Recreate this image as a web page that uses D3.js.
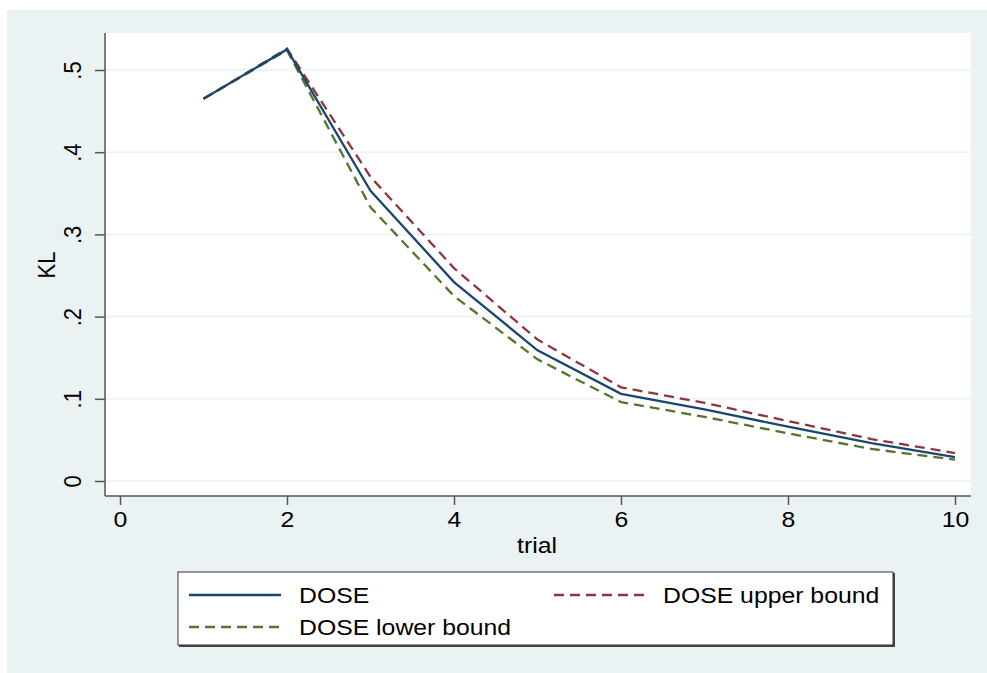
<!DOCTYPE html>
<html>
<head>
<meta charset="utf-8">
<script src="https://cdn.jsdelivr.net/npm/d3@7"></script>
<style>
  html, body { margin: 0; padding: 0; background: #ffffff; }
  svg { display: block; font-family: "Liberation Sans", Arial, Helvetica, sans-serif; }
</style>
</head>
<body>
<svg id="chart" width="987" height="673"></svg>
<script>
// KL divergence by trial for DOSE and its bounds
const trials = [1, 2, 3, 4, 5, 6, 7, 8, 9, 10];
const dose = [0.465, 0.525, 0.353, 0.242, 0.159, 0.106, 0.087, 0.066, 0.046, 0.029];
const doseUpper = [0.465, 0.526, 0.370, 0.259, 0.172, 0.114, 0.095, 0.073, 0.051, 0.034];
const doseLower = [0.465, 0.524, 0.333, 0.225, 0.148, 0.096, 0.078, 0.058, 0.039, 0.026];
const xTicks = [0, 2, 4, 6, 8, 10];
const yTicks = [0, 0.1, 0.2, 0.3, 0.4, 0.5];
const yTickLabels = ["0", ".1", ".2", ".3", ".4", ".5"];

const series = [
  { name: "DOSE", values: dose, color: "#1a476f", dash: null },
  { name: "DOSE upper bound", values: doseUpper, color: "#90353b", dash: "10,6" },
  { name: "DOSE lower bound", values: doseLower, color: "#55752f", dash: "10,6" }
];

const svg = d3.select("#chart");
const bg = "#eaf2f3";
const fontSize = 22;
const stretch = 1.127;   // horizontal widening of all text

// outer graph region
svg.append("rect").attr("x", 7).attr("y", 10).attr("width", 980).attr("height", 663).attr("fill", bg);

// plot region
const plot = { left: 105, right: 971, top: 33, bottom: 496 };
svg.append("rect")
  .attr("x", plot.left).attr("y", plot.top)
  .attr("width", plot.right - plot.left).attr("height", plot.bottom - plot.top)
  .attr("fill", "#ffffff");

const x = d3.scaleLinear().domain([0, 10]).range([120, 955]);
const y = d3.scaleLinear().domain([0, 0.5]).range([481, 70]);

// horizontal grid lines
svg.append("g").selectAll("line").data(yTicks).join("line")
  .attr("x1", plot.left).attr("x2", plot.right)
  .attr("y1", d => y(d)).attr("y2", d => y(d))
  .attr("stroke", bg).attr("stroke-width", 1.5);

// y axis
const yAxis = d3.axisLeft(y).tickValues(yTicks).tickSize(10)
  .tickFormat((d, i) => yTickLabels[i]);
const gy = svg.append("g").attr("transform", `translate(${plot.left},0)`).call(yAxis);
gy.select(".domain").attr("d", `M0,${plot.top}V${plot.bottom}`).attr("stroke", "#555").attr("stroke-width", 1.5);
gy.selectAll(".tick line").attr("stroke", "#555").attr("stroke-width", 1.5);
gy.selectAll(".tick text")
  .attr("x", null).attr("dy", null)
  .attr("transform", `translate(-24,0) scale(${stretch},1) rotate(-90)`)
  .attr("text-anchor", "middle")
  .attr("font-size", fontSize).attr("fill", "#000")
  .style("font-family", "'Liberation Sans', Arial, sans-serif");

// x axis
const xAxis = d3.axisBottom(x).tickValues(xTicks).tickSize(9).tickFormat(d3.format("d"));
const gx = svg.append("g").attr("transform", `translate(0,${plot.bottom})`).call(xAxis);
gx.select(".domain").attr("d", `M${plot.left},0H${plot.right}`).attr("stroke", "#555").attr("stroke-width", 1.5);
gx.selectAll(".tick line").attr("stroke", "#555").attr("stroke-width", 1.5);
gx.selectAll(".tick text")
  .attr("y", null).attr("dy", null)
  .attr("transform", `translate(0,31) scale(${stretch},1)`)
  .attr("font-size", fontSize).attr("fill", "#000")
  .style("font-family", "'Liberation Sans', Arial, sans-serif");

// axis titles
svg.append("text").attr("transform", `translate(55,265) scale(${stretch},1) rotate(-90)`)
  .attr("text-anchor", "middle").attr("font-size", fontSize).attr("fill", "#000").text("KL");
svg.append("text").attr("transform", `translate(537,553) scale(${stretch},1)`)
  .attr("text-anchor", "middle").attr("font-size", fontSize).attr("fill", "#000").text("trial");

// series lines
const line = d3.line().x((d, i) => x(trials[i])).y(d => y(d));
svg.append("g").selectAll("path").data(series.slice().reverse()).join("path")
  .attr("d", d => line(d.values))
  .attr("fill", "none")
  .attr("stroke", d => d.color)
  .attr("stroke-width", 2.3)
  .attr("stroke-dasharray", d => d.dash);

// legend
const legend = svg.append("g");
legend.append("rect").attr("x", 179).attr("y", 573).attr("width", 716).attr("height", 74)
  .attr("fill", "#444");
legend.append("rect").attr("x", 178).attr("y", 572).attr("width", 715).attr("height", 73)
  .attr("fill", "#ffffff").attr("stroke", "#333").attr("stroke-width", 1);

const legendItems = [
  { s: series[0], lx: 189, ly: 595, tx: 299 },
  { s: series[1], lx: 554, ly: 595, tx: 663 },
  { s: series[2], lx: 189, ly: 627, tx: 299 }
];
legendItems.forEach(it => {
  legend.append("line")
    .attr("x1", it.lx).attr("x2", it.lx + 92)
    .attr("y1", it.ly).attr("y2", it.ly)
    .attr("stroke", it.s.color).attr("stroke-width", 2.3)
    .attr("stroke-dasharray", it.s.dash);
  legend.append("text").attr("transform", `translate(${it.tx},${it.ly + 8}) scale(${stretch},1)`)
    .attr("font-size", fontSize).attr("fill", "#000").text(it.s.name);
});
</script>
</body>
</html>
